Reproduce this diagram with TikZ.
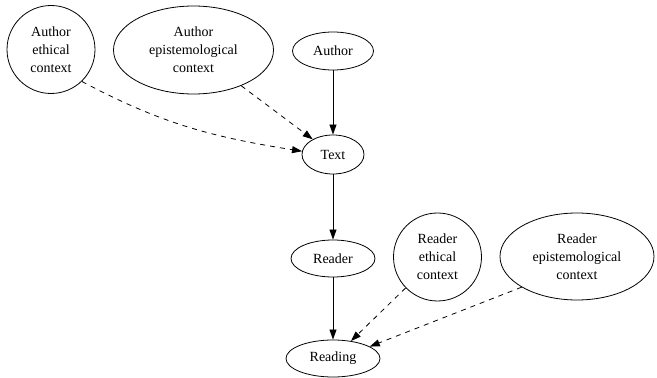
\documentclass[tikz,border=0pt]{standalone}
\usepackage{fontspec}
\setmainfont{Liberation Serif}
\usetikzlibrary{shapes.geometric,arrows.meta}
\begin{document}
\begin{tikzpicture}[x=1pt,y=1pt,
  every node/.style={font=\fontsize{14}{18}\selectfont, align=center, draw, line width=0.8pt, inner sep=0pt},
  ell/.style={ellipse},
  circ/.style={circle, minimum size=88pt},
  edge/.style={line width=0.8pt, -{Triangle[length=10pt,width=7pt]}},
  dep/.style={edge, dash pattern=on 5pt off 5pt}]
\useasboundingbox (0,0) rectangle (657,378);
\node[circ] (aeth) at (51,328.5) {Author\\ethical\\context};
\node[ell, minimum width=160pt, minimum height=88pt] (aepi) at (193.5,328) {Author\\epistemological\\context};
\node[ell, minimum width=81pt, minimum height=38pt] (author) at (333,327) {Author};
\node[ell, minimum width=62pt, minimum height=39pt] (txt) at (333,223.5) {Text};
\node[ell, minimum width=84pt, minimum height=37pt] (reader) at (333,119.5) {Reader};
\node[circ] (reth) at (437.5,121) {Reader\\ethical\\context};
\node[ell, minimum width=154pt, minimum height=87pt] (repi) at (577,121.5) {Reader\\epistemological\\context};
\node[ell, minimum width=94pt, minimum height=37pt] (reading) at (333,19.5) {Reading};
\draw[edge] (author) -- (txt);
\draw[edge] (txt) -- (reader);
\draw[edge] (reader) -- (reading);
\draw[dep] (aeth.-46) to[out=-28,in=171] (txt.174);
\draw[dep] (aepi) -- (txt);
\draw[dep] (reth) -- (reading);
\draw[dep] (repi.209) -- (reading.18);
\end{tikzpicture}
\end{document}
